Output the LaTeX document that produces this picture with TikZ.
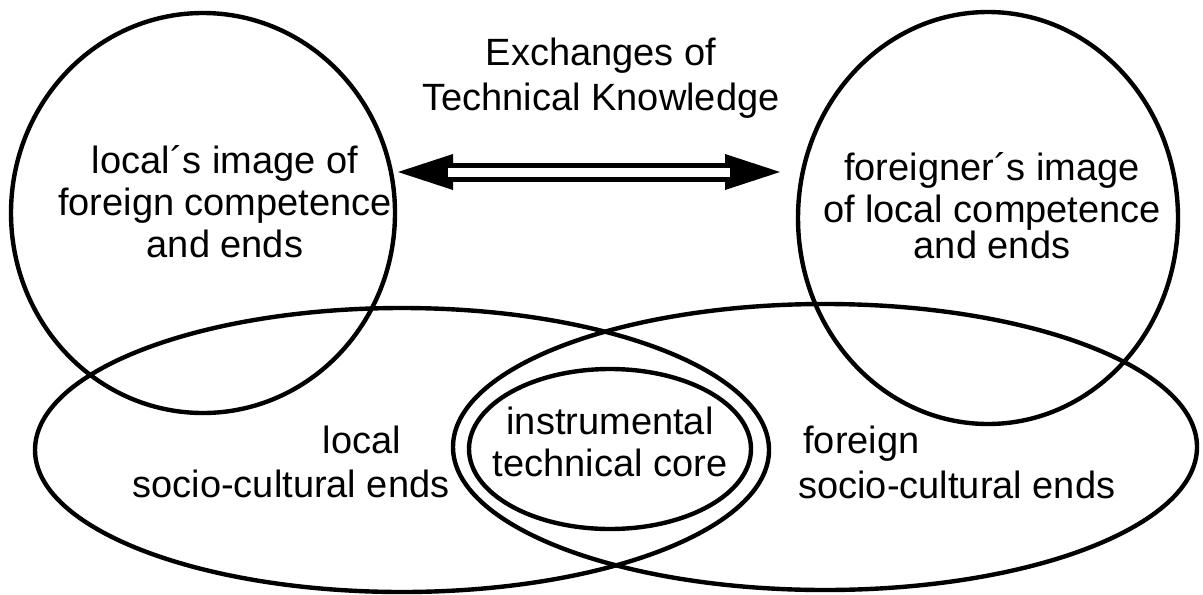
\documentclass[tikz,border=0pt]{standalone}
\usepackage{fontspec}
\setmainfont{Liberation Sans}
\usetikzlibrary{shapes.geometric}
\usetikzlibrary{arrows.meta}

\tikzset{
  ring/.style={draw, ellipse, line width=2.2pt, inner sep=0pt},
  txt/.style={font=\fontsize{19}{21}\selectfont, align=center, inner sep=0pt},
}

\begin{document}
\begin{tikzpicture}[x=0.5pt,y=-0.5pt]
        \useasboundingbox (0,0) rectangle (1203,594);

        % images each side holds of the other
        \node[ring, minimum width=192pt, minimum height=200pt] (limg) at (203,213) {};
        \node[ring, minimum width=190pt, minimum height=206pt] (fimg) at (988,218) {};

        % socio-cultural ends and the shared core
        \node[ring, minimum width=367pt, minimum height=142pt] (lends) at (402,450) {};
        \node[ring, minimum width=372pt, minimum height=143pt] (fends) at (825,447) {};
        \node[ring, minimum width=141pt, minimum height=80pt] (core) at (610,449) {};

        % double arrow between the two images
        \coordinate (xl) at (398,172);
        \coordinate (xr) at (780,172);
        \draw[line width=9.5pt,
              {Triangle[length=27.5pt,width=18pt,line width=0pt]}-{Triangle[length=27.5pt,width=18pt,line width=0pt]}]
            (xl) -- (xr);
        \draw[white, line width=4.5pt, shorten <=25pt, shorten >=25pt] (xl) -- (xr);

        \node[txt] (exch) at (601,78) {Exchanges of\\[1.5pt]Technical Knowledge};
        \node[txt] (limgtxt) at (225,202) {local´s image of\\foreign competence\\and ends};
        \node[txt] (fimgtxt) at (992,206) {foreigner´s image\\of local competence\\[-3pt]and ends};

        \node[txt, anchor=base] (llocal) at (362,453) {local};
        \node[txt, anchor=base] (lsoc) at (291,497) {socio-cultural ends};
        \node[txt, anchor=base west] (fforeign) at (803,453) {foreign};
        \node[txt, anchor=base west] (fsoc) at (798,498) {socio-cultural ends};
        \node[txt] (coretxt) at (610,442) {instrumental\\technical core};
\end{tikzpicture}
\end{document}
